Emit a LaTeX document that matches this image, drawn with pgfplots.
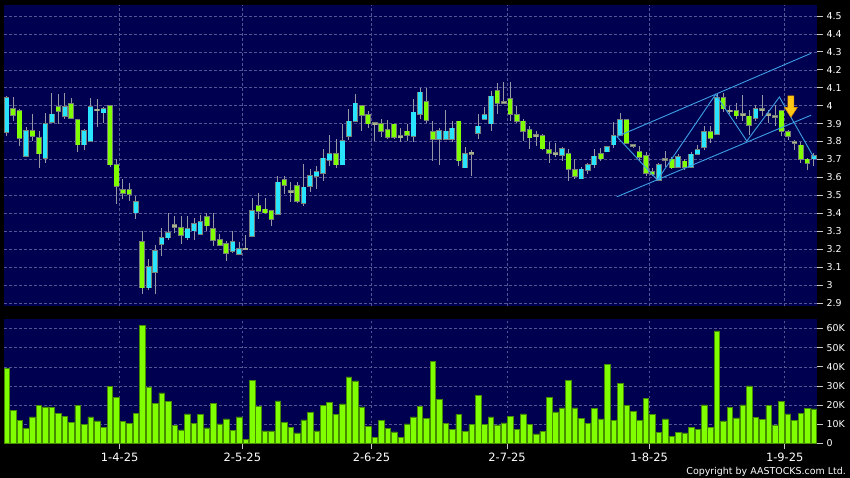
\documentclass[border=0pt]{standalone}
\usepackage{fontspec}
\setmainfont{DejaVu Sans}
\usepackage{pgfplots}
\usepackage{pgfplotstable}
\pgfplotsset{compat=1.18}
\definecolor{navy}{RGB}{0,0,80}
\definecolor{gridc}{RGB}{85,85,150}
\definecolor{tickc}{RGB}{200,200,200}
\definecolor{upc}{RGB}{40,228,255}
\definecolor{dnc}{RGB}{128,255,0}
\definecolor{djc}{RGB}{170,180,140}
\definecolor{edgec}{RGB}{120,128,120}
\definecolor{wickc}{RGB}{150,150,165}
\definecolor{volc}{RGB}{128,255,0}
\definecolor{voledge}{RGB}{70,140,0}
\definecolor{trendc}{RGB}{60,160,230}
\definecolor{goldc}{RGB}{255,200,20}
\definecolor{goldedge}{RGB}{225,140,0}

% x o h l c
\pgfplotstableread{
x o h l c
0 3.853 4.053 3.830 4.044
3 3.719 3.882 3.715 3.860
6 3.708 3.961 3.682 3.900
7 3.909 4.072 3.909 3.951
9 3.942 4.072 3.923 3.994
12 3.782 3.871 3.752 3.860
13 3.803 4.044 3.803 3.994
15 3.961 3.994 3.905 3.983
20 3.403 3.496 3.370 3.464
22 2.985 3.143 2.972 3.102
23 3.074 3.226 2.951 3.189
24 3.230 3.319 3.161 3.264
25 3.264 3.403 3.250 3.291
28 3.264 3.384 3.250 3.314
29 3.304 3.375 3.250 3.343
30 3.282 3.388 3.277 3.351
35 3.189 3.300 3.180 3.239
36 3.174 3.241 3.171 3.202
38 3.273 3.487 3.273 3.412
42 3.395 3.609 3.390 3.572
46 3.455 3.674 3.442 3.544
47 3.553 3.646 3.516 3.609
48 3.609 3.665 3.535 3.631
49 3.622 3.758 3.581 3.706
50 3.696 3.836 3.665 3.733
52 3.672 3.900 3.672 3.804
53 3.832 3.984 3.808 3.912
54 3.912 4.064 3.912 4.012
63 3.832 4.036 3.795 3.962
64 3.953 4.101 3.925 4.074
67 3.813 3.873 3.668 3.860
68 3.813 3.975 3.813 3.856
69 3.813 3.916 3.795 3.873
71 3.655 3.772 3.655 3.733
73 3.845 3.953 3.813 3.884
74 3.923 3.990 3.923 3.947
75 3.900 4.083 3.860 4.051
86 3.723 3.770 3.691 3.760
89 3.593 3.660 3.593 3.645
90 3.641 3.682 3.617 3.671
91 3.671 3.756 3.654 3.717
93 3.743 3.775 3.743 3.771
94 3.782 3.909 3.765 3.830
95 3.834 3.961 3.834 3.920
101 3.585 3.682 3.580 3.669
104 3.659 3.728 3.659 3.715
106 3.659 3.741 3.653 3.728
107 3.731 3.778 3.731 3.755
108 3.768 3.886 3.755 3.852
110 3.843 4.071 3.843 4.043
116 3.932 4.001 3.913 3.984
125 3.705 3.737 3.662 3.722
}\upC

\pgfplotstableread{
x o h l c
1 3.983 4.050 3.914 3.949
2 3.972 3.980 3.775 3.819
4 3.860 3.951 3.803 3.830
5 3.821 3.858 3.654 3.732
8 3.994 4.063 3.900 3.970
10 4.011 4.044 3.931 3.931
11 3.920 3.920 3.741 3.782
16 4.000 4.000 3.660 3.671
17 3.671 3.704 3.453 3.552
18 3.529 3.593 3.481 3.514
19 3.529 3.567 3.468 3.505
21 3.241 3.304 2.951 2.985
27 3.319 3.384 3.230 3.278
31 3.380 3.403 3.300 3.332
32 3.314 3.403 3.217 3.252
33 3.252 3.282 3.217 3.223
34 3.230 3.245 3.137 3.180
39 3.440 3.514 3.366 3.412
40 3.422 3.487 3.394 3.403
41 3.412 3.412 3.329 3.366
43 3.585 3.609 3.507 3.557
45 3.553 3.572 3.457 3.469
51 3.732 3.813 3.655 3.672
55 4.000 4.006 3.860 3.947
56 3.949 3.971 3.873 3.900
58 3.900 3.925 3.828 3.858
59 3.864 3.921 3.813 3.823
60 3.895 3.895 3.813 3.823
62 3.856 3.900 3.804 3.836
65 4.023 4.101 3.906 3.919
66 3.854 3.916 3.693 3.813
70 3.912 3.912 3.661 3.693
76 4.083 4.129 3.953 4.014
78 4.036 4.133 3.916 3.953
79 3.947 4.000 3.906 3.912
80 3.912 3.925 3.804 3.856
81 3.864 3.888 3.761 3.821
83 3.832 3.840 3.755 3.761
84 3.754 3.799 3.682 3.734
87 3.732 3.756 3.580 3.645
88 3.641 3.700 3.589 3.607
92 3.732 3.765 3.691 3.704
96 3.920 3.920 3.784 3.793
98 3.741 3.775 3.691 3.712
99 3.719 3.741 3.607 3.622
100 3.632 3.654 3.607 3.620
103 3.700 3.715 3.648 3.654
105 3.690 3.700 3.644 3.659
109 3.852 3.886 3.793 3.819
111 4.043 4.071 3.964 3.984
113 3.969 4.016 3.926 3.945
115 3.941 3.978 3.839 3.891
120 3.969 3.969 3.830 3.858
121 3.852 3.867 3.811 3.830
123 3.778 3.796 3.681 3.703
124 3.700 3.709 3.644 3.681
}\dnC

\pgfplotstableread{
x o h l c
14 3.978 4.035 3.882 3.974
26 3.332 3.384 3.288 3.326
37 3.202 3.277 3.200 3.202
44 3.522 3.572 3.464 3.518
57 3.902 3.905 3.804 3.898
61 3.830 3.873 3.795 3.826
72 3.737 3.754 3.609 3.733
77 4.020 4.133 4.014 4.016
82 3.834 3.860 3.773 3.830
85 3.733 3.790 3.716 3.730
97 3.780 3.784 3.765 3.776
102 3.702 3.747 3.659 3.698
112 3.972 3.997 3.951 3.968
114 3.952 4.060 3.913 3.948
117 3.980 4.062 3.941 3.976
118 3.952 3.978 3.904 3.948
119 3.942 4.006 3.885 3.938
122 3.798 3.811 3.755 3.794
}\djC

% volume in thousands
\pgfplotstableread{
x v
0 39.1
1 17.4
2 12.2
3 7.8
4 13.9
5 20.0
6 19.1
7 19.0
8 15.7
9 14.3
10 11.0
11 20.0
12 10.1
13 13.9
14 11.8
15 8.3
16 29.9
17 24.0
18 11.7
19 10.6
20 15.8
21 61.7
22 29.6
23 20.9
24 26.4
25 22.1
26 9.6
27 7.1
28 15.5
29 10.6
30 15.1
31 8.2
32 20.9
33 10.3
34 12.9
35 7.0
36 13.9
37 2.3
38 33.0
39 19.5
40 6.6
41 6.6
42 22.3
43 11.1
44 8.3
45 5.6
46 12.3
47 16.3
48 6.6
49 19.8
50 21.6
51 15.3
52 20.7
53 34.8
54 32.7
55 19.1
56 9.0
57 3.0
58 12.0
59 7.8
60 6.1
61 3.3
62 10.3
63 13.9
64 19.3
65 13.2
66 43.0
67 23.0
68 10.4
69 7.5
70 15.1
71 6.4
72 9.9
73 25.2
74 9.9
75 13.9
76 9.7
77 10.8
78 14.3
79 7.3
80 15.5
81 9.9
82 5.0
83 6.4
84 24.0
85 16.5
86 18.6
87 33.0
88 18.6
89 13.0
90 10.4
91 18.4
92 12.9
93 41.2
94 12.0
95 31.3
96 20.0
97 16.9
98 12.2
99 23.5
100 15.1
101 5.7
102 12.9
103 3.8
104 5.9
105 5.6
106 8.3
107 7.3
108 20.2
109 8.3
110 58.8
111 11.8
112 19.0
113 13.4
114 20.2
115 30.1
116 13.6
117 12.5
118 20.0
119 9.7
120 21.9
121 15.5
122 12.2
123 15.7
124 18.4
125 18.1
}\volT

\pgfplotsset{
  panel/.style={
    scale only axis, width=813bp,
    xmin=-0.41, xmax=125.5,
    axis background/.style={fill=navy},
    axis line style={draw=none},
    grid=major,
    major grid style={draw=gridc, dash pattern=on 2.5bp off 2.5bp, line width=0.5bp},
    xtick={17.5,36.5,56.5,77.5,99.5,120.5},
    ytick pos=right, yticklabel pos=right,
    tick align=outside, major tick length=6bp,
    tick style={draw=tickc, line width=0.7bp},
    tick label style={text=white, font=\fontsize{9.5}{10}\selectfont},
  },
  wick/.style={forget plot, mark=none, draw=none,
    error bars/.cd, y dir=both, y explicit, error mark=none,
    error bar style={line width=0.8bp, draw=wickc, solid}},
  bodyedge/.style={forget plot, mark=none, draw=none,
    error bars/.cd, y dir=both, y explicit, error mark=none,
    error bar style={line width=5.6bp, draw=edgec, solid}},
  bodyfill/.style={forget plot, mark=none, draw=none,
    error bars/.cd, y dir=both, y explicit, error mark=none,
    error bar style={line width=4.2bp, draw=#1, solid}},
}

\begin{document}
\begin{tikzpicture}[x=1bp,y=1bp]
\fill[black] (0,0) rectangle (850,478);
\useasboundingbox (0,0) rectangle (850,478);

% ---------- price panel ----------
\begin{axis}[panel,
  at={(4bp,172bp)}, anchor=south west, height=301bp,
  ymin=2.8835, ymax=4.561,
  ytick={2.9,3.0,3.1,3.2,3.3,3.4,3.5,3.6,3.7,3.8,3.9,4.0,4.1,4.2,4.3,4.4,4.5},
  yticklabels={2.9,3,3.1,3.2,3.3,3.4,3.5,3.6,3.7,3.8,3.9,4,4.1,4.2,4.3,4.4,4.5},
  xticklabels={}, xtick style={draw=none},
]
% wicks
\addplot[wick] table[x=x, y expr={(\thisrow{h}+\thisrow{l})/2}, y error expr={(\thisrow{h}-\thisrow{l})/2}] {\upC};
\addplot[wick] table[x=x, y expr={(\thisrow{h}+\thisrow{l})/2}, y error expr={(\thisrow{h}-\thisrow{l})/2}] {\dnC};
\addplot[wick] table[x=x, y expr={(\thisrow{h}+\thisrow{l})/2}, y error expr={(\thisrow{h}-\thisrow{l})/2}] {\djC};
% body edges
\addplot[bodyedge] table[x=x, y expr={(\thisrow{o}+\thisrow{c})/2}, y error expr={abs(\thisrow{c}-\thisrow{o})/2+0.004}] {\upC};
\addplot[bodyedge] table[x=x, y expr={(\thisrow{o}+\thisrow{c})/2}, y error expr={abs(\thisrow{c}-\thisrow{o})/2+0.004}] {\dnC};
\addplot[bodyedge] table[x=x, y expr={(\thisrow{o}+\thisrow{c})/2}, y error expr={abs(\thisrow{c}-\thisrow{o})/2+0.006}] {\djC};
% body fills
\addplot[bodyfill=upc] table[x=x, y expr={(\thisrow{o}+\thisrow{c})/2}, y error expr={abs(\thisrow{c}-\thisrow{o})/2}] {\upC};
\addplot[bodyfill=dnc] table[x=x, y expr={(\thisrow{o}+\thisrow{c})/2}, y error expr={abs(\thisrow{c}-\thisrow{o})/2}] {\dnC};
\addplot[bodyfill=djc] table[x=x, y expr={(\thisrow{o}+\thisrow{c})/2}, y error expr={abs(\thisrow{c}-\thisrow{o})/2+0.002}] {\djC};
% channel and zigzag
\addplot[trendc, line width=0.9bp, mark=none] coordinates {(94.49,3.827) (124.59,4.292)};
\addplot[trendc, line width=0.9bp, mark=none] coordinates {(94.49,3.492) (124.59,3.947)};
\addplot[trendc, line width=0.9bp, mark=none] coordinates {(94.49,3.828) (100.78,3.586) (109.8,4.063) (114.63,3.803) (119.68,4.048) (125.0,3.712)};
% down arrow
\addplot[fill=goldc, draw=goldedge, line width=0.5bp, mark=none] coordinates {(121.0,4.054) (121.92,4.054) (121.92,3.991) (122.46,3.991) (121.46,3.935) (120.46,3.991) (121.0,3.991)} -- cycle;
\end{axis}

% ---------- volume panel ----------
\begin{axis}[panel,
  at={(4bp,34.5bp)}, anchor=south west, height=124.5bp,
  ymin=0, ymax=64.95,
  ytick={0,10,20,30,40,50,60},
  yticklabels={0,10K,20K,30K,40K,50K,60K},
  xtick pos=bottom,
  xticklabels={1-4-25,2-5-25,2-6-25,2-7-25,1-8-25,1-9-25},
  xticklabel style={font=\fontsize{11.5}{12}\selectfont},
]
\addplot[ybar, bar width=0.86, bar shift=0pt, fill=volc, draw=voledge, line width=0.5bp] table[x=x, y=v] {\volT};
\end{axis}

\node[anchor=base east, text=white, font=\fontsize{9.5}{10}\selectfont, inner sep=0pt] at (846bp,3.5bp) {Copyright by AASTOCKS.com Ltd.};
\end{tikzpicture}
\end{document}
